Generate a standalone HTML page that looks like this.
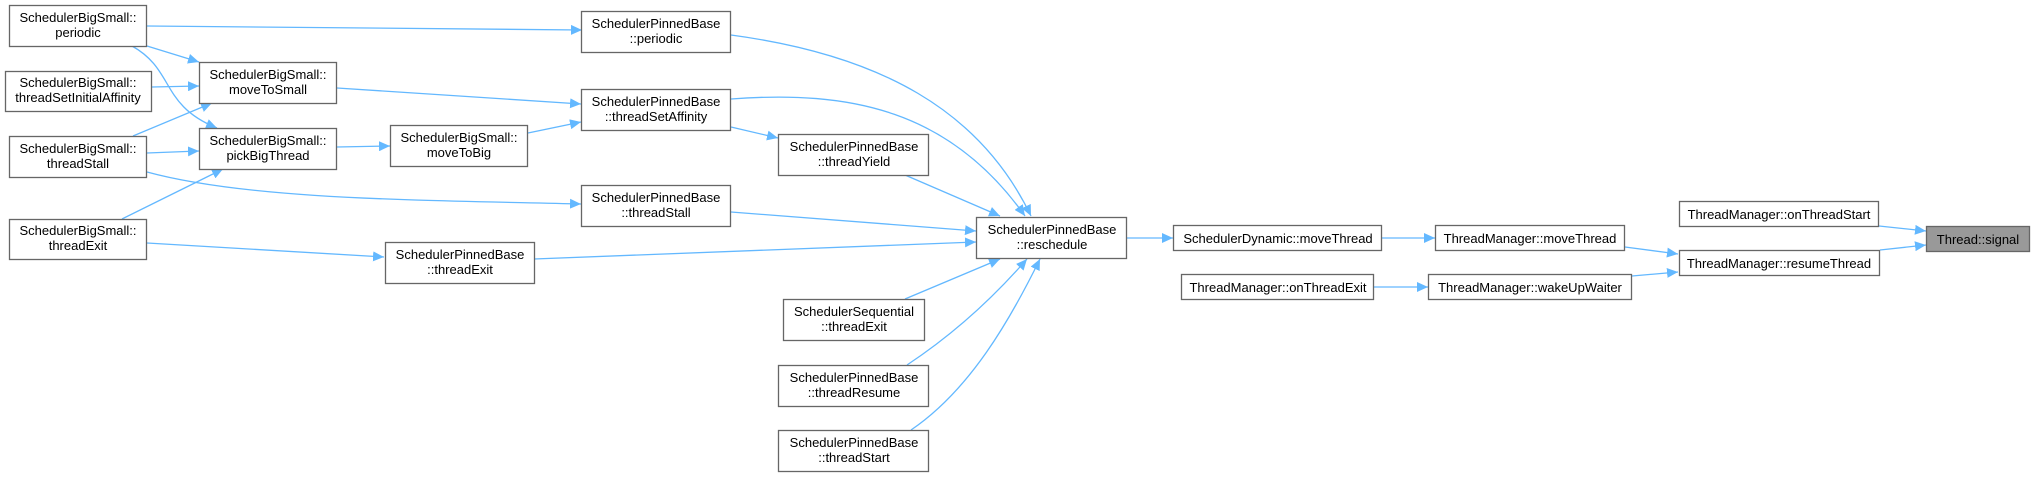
<!DOCTYPE html>
<html><head><meta charset="utf-8"><style>
html,body{margin:0;padding:0;background:#fff;}
svg{display:block;}
text{font-family:"Liberation Sans",Arial,sans-serif;font-size:13px;fill:#000;text-anchor:middle;}
.b{fill:#fff;stroke:#666;stroke-width:1.3;}
.e{fill:none;stroke:#63b8ff;stroke-width:1.3;}
</style></head><body>
<svg width="2035" height="477" viewBox="0 0 2035 477" xmlns="http://www.w3.org/2000/svg">
<defs><marker id="a" markerWidth="12" markerHeight="10" refX="11" refY="5" orient="auto" markerUnits="userSpaceOnUse"><path d="M0,0 L11,5 L0,10 Z" fill="#63b8ff"/></marker></defs>
<g marker-end="url(#a)">
<path class="e" d="M147,26 L582,30"/>
<path class="e" d="M147,46 L199,62"/>
<path class="e" d="M132,46 C175,70 160,105 217,128"/>
<path class="e" d="M152,87 L199,86"/>
<path class="e" d="M133,136 L212,103"/>
<path class="e" d="M147,153 L199,151"/>
<path class="e" d="M147,172 C250,200 420,200 581,204"/>
<path class="e" d="M122,219 L223,169"/>
<path class="e" d="M147,243 L384,257"/>
<path class="e" d="M337,88 L581,104"/>
<path class="e" d="M337,147 L390,146"/>
<path class="e" d="M528,133 L581,122"/>
<path class="e" d="M731,35 C880,55 980,110 1031,216"/>
<path class="e" d="M731,99 C850,90 950,110 1025,216"/>
<path class="e" d="M731,127 L778,138"/>
<path class="e" d="M905,175 L1000,216"/>
<path class="e" d="M731,212 L976,231"/>
<path class="e" d="M534,259 L976,242"/>
<path class="e" d="M905,299 L1000,259"/>
<path class="e" d="M907,365 C960,330 1000,290 1027,259"/>
<path class="e" d="M911,430 C970,390 1010,320 1040,259"/>
<path class="e" d="M1126,238 L1173,238"/>
<path class="e" d="M1382,238 L1435,238"/>
<path class="e" d="M1374,287 L1428,287"/>
<path class="e" d="M1625,247 L1678,254"/>
<path class="e" d="M1632,276 L1678,272"/>
<path class="e" d="M1879,226 L1926,231"/>
<path class="e" d="M1880,250 L1926,245"/>
</g>
<rect class="b" x="9.5" y="5.5" width="137" height="41"/><text x="78" y="22">SchedulerBigSmall::</text><text x="78" y="37">periodic</text>
<rect class="b" x="5.5" y="71.5" width="146" height="40"/><text x="78" y="87">SchedulerBigSmall::</text><text x="78" y="102">threadSetInitialAffinity</text>
<rect class="b" x="9.5" y="136.5" width="137" height="41"/><text x="78" y="153">SchedulerBigSmall::</text><text x="78" y="168">threadStall</text>
<rect class="b" x="9.5" y="219.5" width="137" height="40"/><text x="78" y="235">SchedulerBigSmall::</text><text x="78" y="250">threadExit</text>
<rect class="b" x="199.5" y="62.5" width="137" height="41"/><text x="268" y="79">SchedulerBigSmall::</text><text x="268" y="94">moveToSmall</text>
<rect class="b" x="199.5" y="128.5" width="137" height="41"/><text x="268" y="145">SchedulerBigSmall::</text><text x="268" y="160">pickBigThread</text>
<rect class="b" x="390.5" y="125.5" width="137" height="41"/><text x="459" y="142">SchedulerBigSmall::</text><text x="459" y="157">moveToBig</text>
<rect class="b" x="581.5" y="11.5" width="149" height="41"/><text x="656" y="28">SchedulerPinnedBase</text><text x="656" y="43">::periodic</text>
<rect class="b" x="581.5" y="89.5" width="149" height="41"/><text x="656" y="106">SchedulerPinnedBase</text><text x="656" y="121">::threadSetAffinity</text>
<rect class="b" x="581.5" y="185.5" width="149" height="41"/><text x="656" y="202">SchedulerPinnedBase</text><text x="656" y="217">::threadStall</text>
<rect class="b" x="385.5" y="242.5" width="149" height="41"/><text x="460" y="259">SchedulerPinnedBase</text><text x="460" y="274">::threadExit</text>
<rect class="b" x="778.5" y="134.5" width="150" height="41"/><text x="854" y="151">SchedulerPinnedBase</text><text x="854" y="166">::threadYield</text>
<rect class="b" x="976.5" y="217.5" width="150" height="41"/><text x="1052" y="234">SchedulerPinnedBase</text><text x="1052" y="249">::reschedule</text>
<rect class="b" x="783.5" y="299.5" width="141" height="41"/><text x="854" y="316">SchedulerSequential</text><text x="854" y="331">::threadExit</text>
<rect class="b" x="778.5" y="365.5" width="150" height="41"/><text x="854" y="382">SchedulerPinnedBase</text><text x="854" y="397">::threadResume</text>
<rect class="b" x="778.5" y="430.5" width="150" height="41"/><text x="854" y="447">SchedulerPinnedBase</text><text x="854" y="462">::threadStart</text>
<rect class="b" x="1173.5" y="225.5" width="208" height="25"/><text x="1278" y="243">SchedulerDynamic::moveThread</text>
<rect class="b" x="1181.5" y="274.5" width="192" height="25"/><text x="1278" y="292">ThreadManager::onThreadExit</text>
<rect class="b" x="1435.5" y="225.5" width="189" height="25"/><text x="1530" y="243">ThreadManager::moveThread</text>
<rect class="b" x="1428.5" y="274.5" width="203" height="25"/><text x="1530" y="292">ThreadManager::wakeUpWaiter</text>
<rect class="b" x="1679.5" y="201.5" width="199" height="25"/><text x="1779" y="219">ThreadManager::onThreadStart</text>
<rect class="b" x="1679.5" y="250.5" width="200" height="25"/><text x="1779" y="268">ThreadManager::resumeThread</text>
<rect x="1926.5" y="226.5" width="103" height="25" fill="#999" stroke="#666" stroke-width="1.3"/><text x="1978" y="244">Thread::signal</text>
</svg>
</body></html>
